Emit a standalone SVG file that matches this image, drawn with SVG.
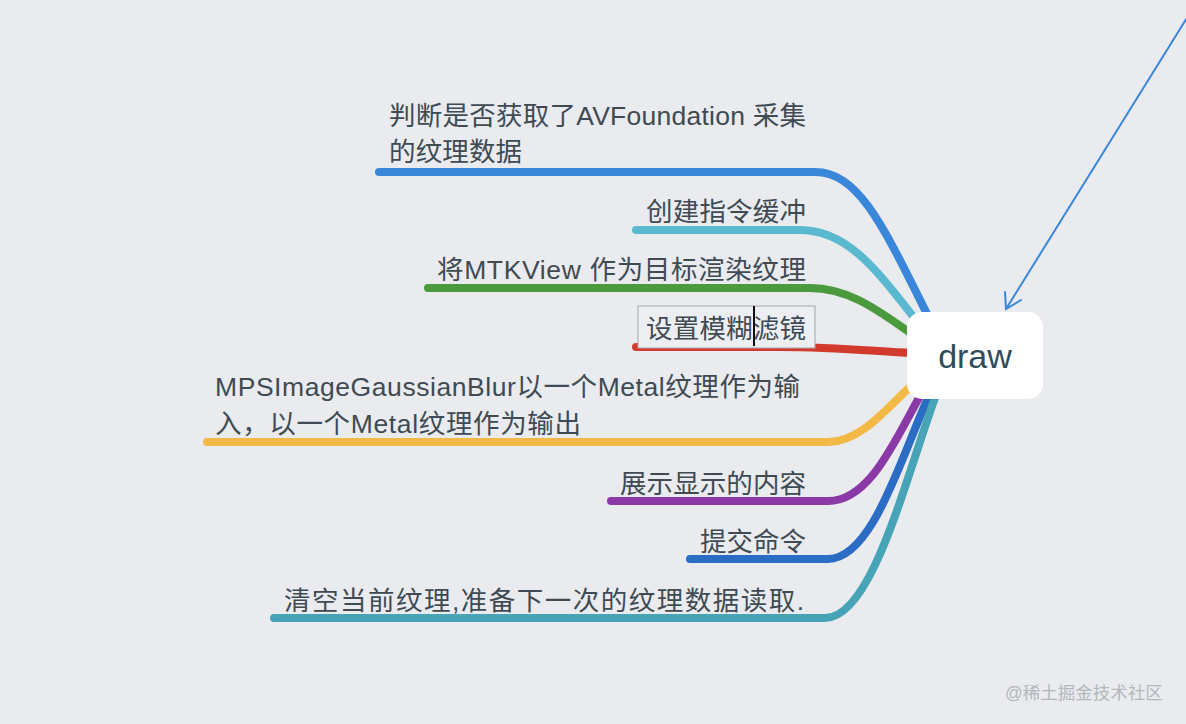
<svg xmlns="http://www.w3.org/2000/svg" width="1186" height="724" viewBox="0 0 1186 724">
<style>
.br{fill:none;stroke-width:8;stroke-linecap:round;stroke-linejoin:round}
.t{font-family:"Liberation Sans","Noto Sans CJK SC",sans-serif;font-size:26.5px;fill:#3f4a53}
</style>
<rect width="1186" height="724" fill="#e9ebef"/>
<g id="connectors">
<path class="br" stroke="#3a86d8" d="M379 172 H815 C860 172 885 230 931 322"/>
<path class="br" stroke="#5ab9cf" d="M636 230 H800 C850 230 880 275 920 325"/>
<path class="br" stroke="#4b9a3e" d="M428 288 H810 C850 288 880 312 912 334"/>
<path class="br" stroke="#d23a2e" d="M636 347 H780 C840 347 880 352 912 353"/>
<path class="br" stroke="#f3b946" d="M207 442 H828 C860 442 885 410 912 385"/>
<path class="br" stroke="#8c39a8" d="M611 501 H828 C870 501 895 440 920 396"/>
<path class="br" stroke="#2b6cc4" d="M690 559 H828 C872 559 900 460 928 398"/>
<path class="br" stroke="#47a3b6" d="M274 618 H825 C872 618 905 480 935 398"/>
<path d="M1198 0 L1006 309" fill="none" stroke="#3a86d8" stroke-width="2"/>
<path d="M1005 292 L1006 309 L1021 300" fill="none" stroke="#3a86d8" stroke-width="2" stroke-linecap="round"/>
</g>
<g id="node-draw">
<rect x="907" y="312" width="136" height="87" rx="15" fill="#ffffff"/>
<text x="975" y="368" text-anchor="middle" font-family="'Liberation Sans','Noto Sans CJK SC',sans-serif" font-size="34" fill="#2f4c5b">draw</text>
</g>
<g id="node-1">
<text class="t" x="389" y="125" textLength="417">判断是否获取了AVFoundation 采集</text>
<text class="t" x="389" y="161" textLength="133">的纹理数据</text>
</g>
<g id="node-2"><text class="t" x="646" y="221" textLength="160">创建指令缓冲</text></g>
<g id="node-3"><text class="t" x="437" y="279" textLength="369">将MTKView 作为目标渲染纹理</text></g>
<g id="node-4">
<rect x="638" y="306" width="177" height="42" fill="#eceef1" stroke="#a3a6aa" stroke-width="1"/>
<text class="t" x="646" y="338" textLength="160">设置模糊滤镜</text>
<rect x="753" y="306" width="2" height="40" fill="#111"/>
</g>
<g id="node-5">
<text class="t" x="215" y="396" textLength="585">MPSImageGaussianBlur以一个Metal纹理作为输</text>
<text class="t" x="215" y="433" textLength="366">入，以一个Metal纹理作为输出</text>
</g>
<g id="node-6"><text class="t" x="620" y="493" textLength="186">展示显示的内容</text></g>
<g id="node-7"><text class="t" x="700" y="551" textLength="106">提交命令</text></g>
<g id="node-8"><text class="t" x="284" y="610" textLength="520">清空当前纹理,准备下一次的纹理数据读取.</text></g>
<text x="1005" y="699" font-family="'Liberation Sans','Noto Sans CJK SC',sans-serif" font-size="17.5" fill="#b4b7bc">@稀土掘金技术社区</text>
</svg>
